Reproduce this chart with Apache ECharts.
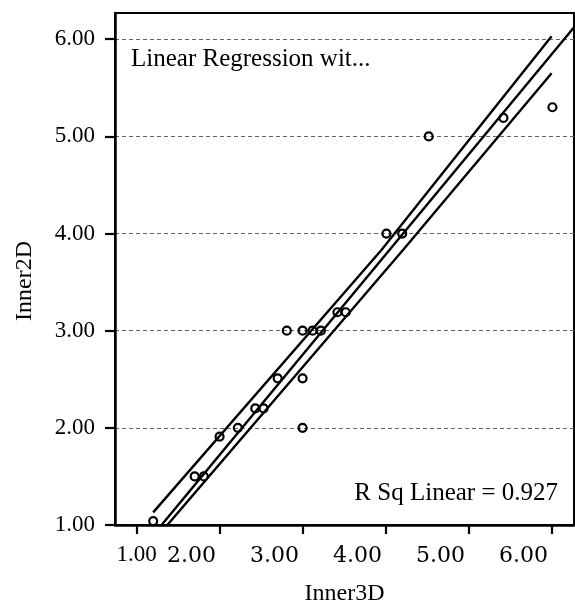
<!DOCTYPE html>
<html>
<head>
<meta charset="utf-8">
<script src="https://cdn.jsdelivr.net/npm/echarts@6/dist/echarts.min.js"></script>
<style>
html,body{margin:0;padding:0;background:#fff;}
#chart{width:575px;height:607px;}
</style>
</head>
<body>
<div id="chart"></div>
<script>
// Scatter points (Inner3D, Inner2D)
var inner3D = [1.20, 1.70, 1.81, 2.00, 2.22, 2.43, 2.53, 2.70, 2.81, 3.00, 3.12, 3.22, 3.42, 3.52, 3.00, 3.00, 4.01, 4.20, 4.52, 5.42, 6.01];
var inner2D = [1.04, 1.50, 1.50, 1.91, 2.00, 2.20, 2.20, 2.51, 3.00, 3.00, 3.00, 3.00, 3.19, 3.19, 2.51, 2.00, 4.00, 4.00, 5.00, 5.19, 5.30];

// Fit line and confidence-interval lines
var fitX = [1.00, 6.50];
var fitY = [0.69, 6.36];
var upperX = [1.20, 3.95, 6.00];
var upperY = [1.13, 3.83, 6.03];
var lowerX = [1.20, 4.21, 6.00];
var lowerY = [0.83, 3.83, 5.65];

// Tick values
var xTicks = [1, 2, 3, 4, 5, 6];
var yTicks = [1, 2, 3, 4, 5, 6];

var annotationTop = 'Linear Regression wit...';
var annotationBottom = 'R Sq Linear = 0.927';

function pairs(xs, ys) {
  return xs.map(function (x, i) { return [x, ys[i]]; });
}

var chart = echarts.init(document.getElementById('chart'), null, {renderer: 'canvas'});
var serif = '"Liberation Serif", "Times New Roman", serif';

var lineStyle = {color: '#000', width: 2.4};

chart.setOption({
  backgroundColor: '#fff',
  animation: false,
  grid: {left: 115, right: 1, top: 13, bottom: 82, show: true, borderColor: '#000', borderWidth: 2, backgroundColor: 'transparent', outerBoundsMode: 'none', containLabel: false},
  xAxis: {
    type: 'value',
    min: 0.74,
    max: 6.27,
    name: 'Inner3D',
    nameLocation: 'middle',
    nameGap: 57,
    nameTextStyle: {fontFamily: serif, fontSize: 24, color: '#000'},
    axisLine: {show: true, lineStyle: {color: '#000', width: 2.5}},
    axisTick: {show: true, customValues: xTicks, length: 9, lineStyle: {color: '#000', width: 2.2}},
    axisLabel: {
      customValues: xTicks,
      margin: 20,
      formatter: function (v) {
        var s = Number(v).toFixed(2);
        return Math.abs(v - 1) < 1e-9 ? '{a|' + s + '}' : '{b|' + s + '}';
      },
      rich: {
        a: {fontFamily: serif, fontSize: 23, color: '#000', lineHeight: 20},
        b: {fontFamily: '"DejaVu Serif", serif', fontSize: 22, color: '#000', padding: [0, 56, 0, 0]}
      }
    },
    splitLine: {show: false}
  },
  yAxis: {
    type: 'value',
    min: 1,
    max: 6.27,
    interval: 1,
    name: 'Inner2D',
    nameLocation: 'middle',
    nameGap: 78,
    nameTextStyle: {fontFamily: serif, fontSize: 24, color: '#000', padding: [0, 24, 0, 0]},
    axisLine: {show: true, lineStyle: {color: '#000', width: 2.5}},
    axisTick: {show: true, customValues: yTicks, length: 10, lineStyle: {color: '#000', width: 2.2}},
    axisLabel: {
      customValues: yTicks,
      margin: 20,
      fontFamily: serif,
      fontSize: 23,
      color: '#000',
      formatter: function (v) { return Number(v).toFixed(2); }
    },
    splitLine: {show: true, lineStyle: {color: '#666', width: 1, type: [4, 3]}}
  },
  graphic: [
    {type: 'text', left: 131, top: 47, style: {text: annotationTop, font: '25px ' + serif, fill: '#000'}, z: 10},
    {type: 'text', right: 17, top: 481, style: {text: annotationBottom, font: '25px ' + serif, fill: '#000'}, z: 10}
  ],
  series: [
    {type: 'line', data: pairs(fitX, fitY), showSymbol: false, symbol: 'none', clip: true, lineStyle: lineStyle, z: 3},
    {type: 'line', data: pairs(upperX, upperY), showSymbol: false, symbol: 'none', clip: true, lineStyle: lineStyle, z: 3},
    {type: 'line', data: pairs(lowerX, lowerY), showSymbol: false, symbol: 'none', clip: true, lineStyle: lineStyle, z: 3},
    {
      type: 'scatter',
      data: pairs(inner3D, inner2D),
      symbol: 'circle',
      symbolSize: 8,
      itemStyle: {color: 'rgba(0,0,0,0)', borderColor: '#000', borderWidth: 2.2, opacity: 1},
      z: 4
    }
  ]
});
</script>
</body>
</html>
